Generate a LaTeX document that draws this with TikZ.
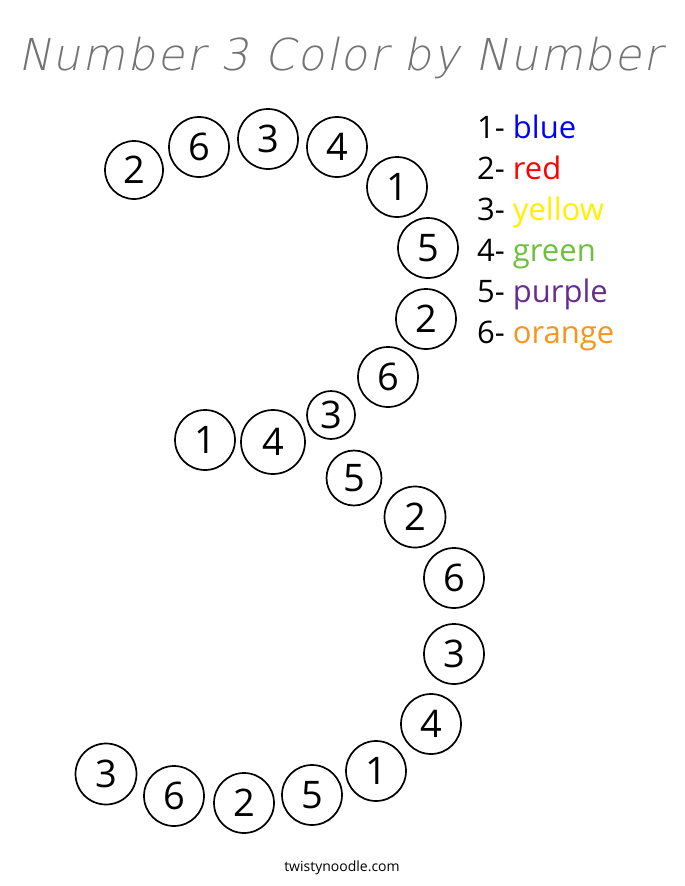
\documentclass[tikz,border=0pt]{standalone}
\usepackage{fontspec}
\setmainfont{Open Sans}
\newfontfamily\titlefont[FakeSlant=0.2,LetterSpace=4.5]{DejaVu Sans ExtraLight}
\definecolor{keyblue}{RGB}{0,0,255}
\definecolor{keyred}{RGB}{255,0,0}
\definecolor{keyyellow}{RGB}{255,240,0}
\definecolor{keygreen}{RGB}{110,192,60}
\definecolor{keypurple}{RGB}{102,45,145}
\definecolor{keyorange}{RGB}{247,148,29}
\begin{document}
\begin{tikzpicture}[x=1pt,y=-1pt,
	dot/.style={draw,circle,line width=1.7pt,inner sep=0pt,font=\fontsize{38}{38}\selectfont},
	key/.style={anchor=base west,inner sep=0pt,font=\fontsize{31}{31}\selectfont}]
	\useasboundingbox (0,0) rectangle (685,886);
	\node[anchor=base,inner sep=0pt,text=black!55,font=\titlefont\fontsize{44}{44}\selectfont] (title) at (340,70) {Number 3 Color by Number};
	\foreach \n/\x/\y/\s/\t in {1/134/170/58/2, 2/199/147/60/6, 3/268/139/60/3, 4/337/147/60/4, 5/397/187/60/1,
		6/428/248/60/5, 7/426/319/60/2, 8/388/377/60/6, 9/331/415/48/3, 10/205/440/60/1,
		11/273/442/64/4, 12/354/478/55/5, 13/415/517/61/2, 14/454/578/60/6, 15/454/654/60/3,
		16/431/724/60/4, 17/376/771/60/1, 18/312/795/60/5, 19/244/803/60/2, 20/174/796/60/6, 21/106/774/61/3}
		\node[dot,minimum size=\s pt] (d\n) at (\x,\y) {\t};
	\node[key] (k1) at (477,138) {1- \textcolor{keyblue}{blue}};
	\node[key] (k2) at (477,179) {2- \textcolor{keyred}{red}};
	\node[key] (k3) at (477,220) {3- \textcolor{keyyellow}{yellow}};
	\node[key] (k4) at (477,261) {4- \textcolor{keygreen}{green}};
	\node[key] (k5) at (477,302) {5- \textcolor{keypurple}{purple}};
	\node[key] (k6) at (477,343) {6- \textcolor{keyorange}{orange}};
	\node[anchor=base,inner sep=0pt,font=\fontsize{14}{14}\selectfont] (site) at (342,871) {twistynoodle.com};
\end{tikzpicture}
\end{document}
